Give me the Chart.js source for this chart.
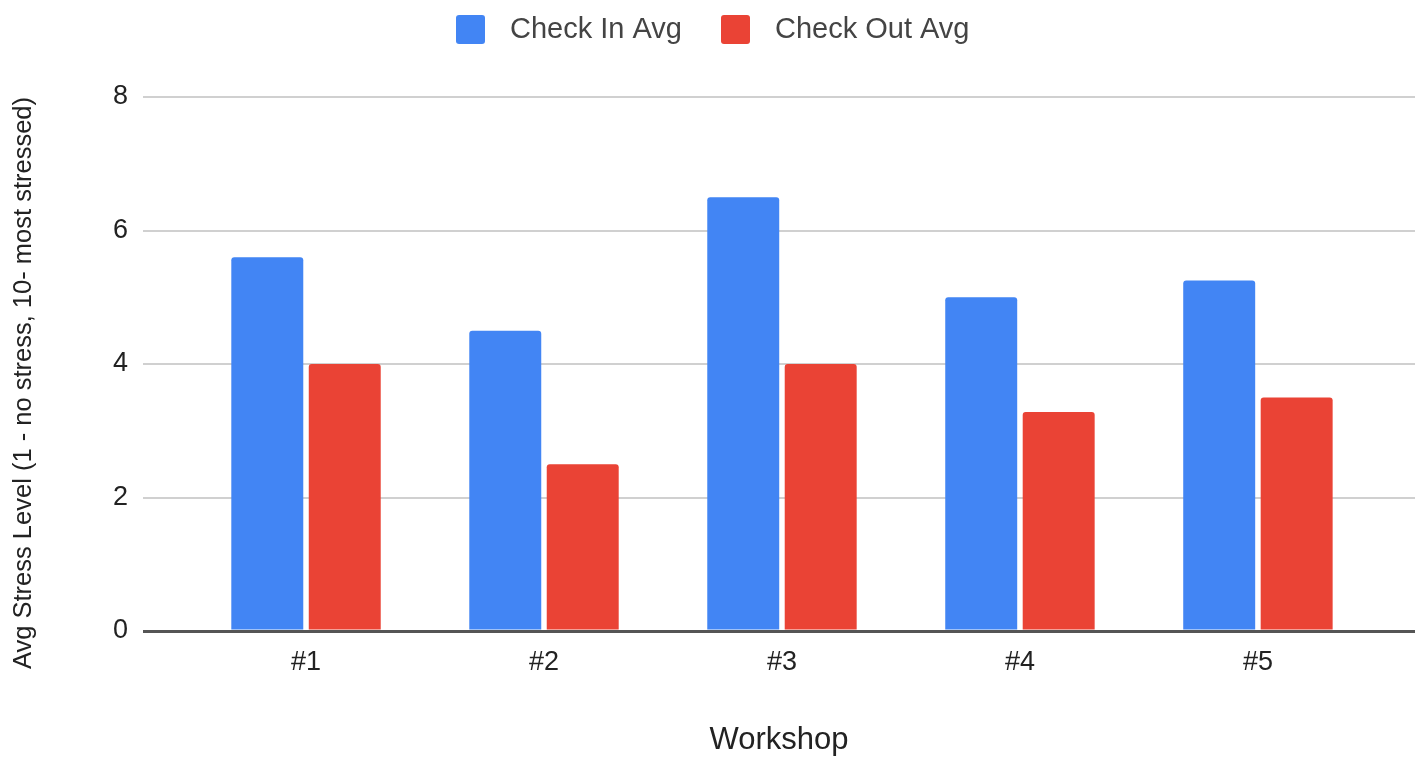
<!DOCTYPE html>
<html>
<head>
<meta charset="utf-8">
<title>Workshop stress levels</title>
<script src="https://cdn.jsdelivr.net/npm/chart.js@4.4.1/dist/chart.umd.min.js"></script>
<style>
  html, body { margin: 0; padding: 0; background: #ffffff; overflow: hidden; }
  #wrap { width: 1415px; height: 775px; }
</style>
</head>
<body>
<div id="wrap"><canvas id="chart" width="1415" height="775"></canvas></div>
<script>
// Workshop categories and average stress ratings
const workshops = ['#1', '#2', '#3', '#4', '#5'];
const checkInAvg = [5.6, 4.5, 6.5, 5.0, 5.25];
const checkOutAvg = [4.0, 2.5, 4.0, 3.28, 3.5];
const yTickValues = [0, 2, 4, 6, 8];

const BLUE = '#4285f4';
const RED = '#ea4335';
const FONT = 'Liberation Sans';

// Small rounded squares used as legend swatches
function swatch(color, size, radius) {
  const c = document.createElement('canvas');
  c.width = size;
  c.height = size;
  const g = c.getContext('2d');
  g.fillStyle = color;
  g.beginPath();
  g.roundRect(0, 0, size, size, radius);
  g.fill();
  return c;
}
const legendSwatches = [swatch(BLUE, 29, 3), swatch(RED, 29, 3)];

// Extra space between the legend and the plot area
const legendGap = {
  id: 'legendGap',
  beforeInit(chart) {
    const fit = chart.legend.fit;
    chart.legend.fit = function () {
      fit.call(this);
      this.height += 43;
    };
  }
};

const toPoints = (values) => values.map((v, i) => ({ x: i, y: v }));

const barStyle = {
  borderWidth: 0,
  borderRadius: 3,
  borderSkipped: 'start',
  categoryPercentage: 0.651,
  barPercentage: 0.929
};

new Chart(document.getElementById('chart'), {
  type: 'bar',
  data: {
    datasets: [
      Object.assign({ label: 'Check In Avg', data: toPoints(checkInAvg), backgroundColor: BLUE }, barStyle),
      Object.assign({ label: 'Check Out Avg', data: toPoints(checkOutAvg), backgroundColor: RED }, barStyle)
    ]
  },
  options: {
    responsive: false,
    devicePixelRatio: 1,
    animation: false,
    layout: { padding: { top: -13.5, left: 0, right: 0, bottom: 0 } },
    plugins: {
      tooltip: { enabled: false },
      legend: {
        position: 'top',
        align: 'center',
        labels: {
          usePointStyle: true,
          pointStyleWidth: 50,
          boxHeight: 29,
          padding: 28.5,
          color: '#444444',
          font: { family: FONT, size: 29 },
          generateLabels(chart) {
            const items = Chart.defaults.plugins.legend.labels.generateLabels(chart);
            items.forEach((item, i) => { item.pointStyle = legendSwatches[i]; });
            return items;
          }
        }
      }
    },
    scales: {
      x: {
        type: 'linear',
        bounds: 'data',
        offset: false,
        min: -0.685,
        max: 4.66,
        afterBuildTicks(scale) {
          scale.ticks = workshops.map((_, i) => ({ value: i }));
        },
        afterFit(scale) { scale.height = 144; },
        ticks: {
          callback: (value) => workshops[value],
          autoSkip: false,
          maxRotation: 0,
          padding: 15,
          color: '#222222',
          font: { family: FONT, size: 27 }
        },
        grid: { display: false, drawTicks: false, offset: false },
        border: { display: false },
        title: {
          display: true,
          text: 'Workshop',
          color: '#222222',
          font: { family: FONT, size: 31 },
          padding: { top: 0, bottom: 16 }
        }
      },
      y: {
        min: 0,
        max: 8,
        afterBuildTicks(scale) {
          scale.ticks = yTickValues.map((v) => ({ value: v }));
        },
        afterFit(scale) { scale.width = 143; },
        ticks: {
          padding: 15,
          color: '#222222',
          font: { family: FONT, size: 27 }
        },
        grid: {
          drawTicks: false,
          color: (c) => (c.tick && c.tick.value === 0 ? '#555555' : '#d0d0d0'),
          lineWidth: (c) => (c.tick && c.tick.value === 0 ? 3 : 2)
        },
        border: { display: false },
        title: {
          display: true,
          align: 'end',
          text: 'Avg Stress Level (1 - no stress, 10- most stressed)',
          color: '#222222',
          font: { family: FONT, size: 25.5 },
          padding: { top: 9, bottom: 0 }
        }
      }
    }
  },
  plugins: [legendGap]
});
</script>
</body>
</html>
